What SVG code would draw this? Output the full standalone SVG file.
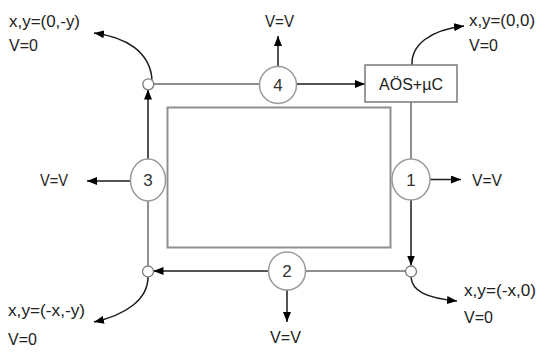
<svg xmlns="http://www.w3.org/2000/svg" width="539" height="354" viewBox="0 0 539 354">
  <defs>
    <marker id="ah" viewBox="0 0 10 8" refX="10" refY="4" markerWidth="10" markerHeight="8" markerUnits="userSpaceOnUse" orient="auto">
      <path d="M0,0 L10,4 L0,8 z" fill="#000"/>
    </marker>
  </defs>
  <style>
    .gray { stroke: #8f8f8f; stroke-width: 2; fill: none; }
    .arr { stroke: #1a1a1a; stroke-width: 1.5; fill: none; marker-end: url(#ah); }
    .node { fill: #fff; stroke: #9a9a9a; stroke-width: 1.5; }
    .dot { fill: #fff; stroke: #7a7a7a; stroke-width: 1.3; }
    .box { fill: #fff; stroke: #7a7a7a; stroke-width: 1.5; }
    text { font-family: "Liberation Sans", Arial, sans-serif; font-size: 16px; fill: #222; }
    .num { text-anchor: middle; font-size: 17px; fill: #333; }
  </style>
  <rect width="539" height="354" fill="#fff"/>

  <!-- inner rectangle -->
  <rect id="plate" x="167.5" y="107.5" width="223" height="140" class="gray"/>

  <g id="connectors">
    <!-- gray track segments -->
    <line x1="153.5" y1="84" x2="259.5" y2="84" class="gray"/>
    <line x1="411" y1="102" x2="411" y2="159" class="gray"/>
    <line x1="405.5" y1="271" x2="305.5" y2="271" class="gray"/>
    <line x1="148" y1="265.5" x2="148" y2="201" class="gray"/>
    <!-- black arrows along track -->
    <line x1="296.5" y1="84" x2="365" y2="84" class="arr"/>
    <line x1="411" y1="200" x2="411" y2="265.5" class="arr"/>
    <line x1="268.5" y1="271" x2="153.5" y2="271" class="arr"/>
    <line x1="148" y1="159" x2="148" y2="89.5" class="arr"/>
    <!-- V=V arrows -->
    <line x1="278" y1="66.5" x2="278" y2="36" class="arr"/>
    <line x1="430" y1="179.5" x2="461" y2="179.5" class="arr"/>
    <line x1="287" y1="290" x2="287" y2="322" class="arr"/>
    <line x1="130.5" y1="181" x2="87" y2="181" class="arr"/>
    <!-- curved corner arrows -->
    <path d="M 152 79.5 C 150 52 126 37 94 33" class="arr"/>
    <path d="M 412 65 C 411 45 430 30 464 26" class="arr"/>
    <path d="M 411 277 C 412 291 426 298 457 301" class="arr"/>
    <path d="M 148 277 C 148 300 125 315 94 322" class="arr"/>
  </g>

  <g id="corner-tl"><circle cx="148.3" cy="84.3" r="5.5" class="dot"/></g>
  <g id="corner-tr-box">
    <rect x="365" y="65" width="92" height="37" class="box"/>
    <text x="411" y="89.5" text-anchor="middle" textLength="64" lengthAdjust="spacingAndGlyphs">AÖS+µC</text>
  </g>
  <g id="corner-br"><circle cx="411" cy="271.5" r="5.5" class="dot"/></g>
  <g id="corner-bl"><circle cx="148" cy="271.5" r="5.5" class="dot"/></g>

  <g id="node-1">
    <ellipse cx="411" cy="179.5" rx="19" ry="20.5" class="node"/>
    <text x="411" y="185.5" class="num">1</text>
  </g>
  <g id="node-2">
    <ellipse cx="287" cy="271" rx="18.5" ry="19" class="node"/>
    <text x="287" y="277" class="num">2</text>
  </g>
  <g id="node-3">
    <ellipse cx="148" cy="180" rx="17.5" ry="21" class="node"/>
    <text x="148" y="186" class="num">3</text>
  </g>
  <g id="node-4">
    <ellipse cx="278" cy="85" rx="18.5" ry="18.5" class="node"/>
    <text x="278" y="91" class="num">4</text>
  </g>

  <g id="labels">
    <text x="9" y="26.5" textLength="71" lengthAdjust="spacingAndGlyphs">x,y=(0,-y)</text>
    <text x="9" y="50.5">V=0</text>
    <text x="469" y="26" textLength="66" lengthAdjust="spacingAndGlyphs">x,y=(0,0)</text>
    <text x="469" y="51">V=0</text>
    <text x="464" y="295.5" textLength="72" lengthAdjust="spacingAndGlyphs">x,y=(-x,0)</text>
    <text x="464" y="323">V=0</text>
    <text x="8" y="316" textLength="77" lengthAdjust="spacingAndGlyphs">x,y=(-x,-y)</text>
    <text x="8" y="345">V=0</text>
    <text x="265" y="27" textLength="29" lengthAdjust="spacingAndGlyphs">V=V</text>
    <text x="472" y="185.5" textLength="30" lengthAdjust="spacingAndGlyphs">V=V</text>
    <text x="40" y="186" textLength="28" lengthAdjust="spacingAndGlyphs">V=V</text>
    <text x="270" y="343" textLength="31" lengthAdjust="spacingAndGlyphs">V=V</text>
  </g>
</svg>
